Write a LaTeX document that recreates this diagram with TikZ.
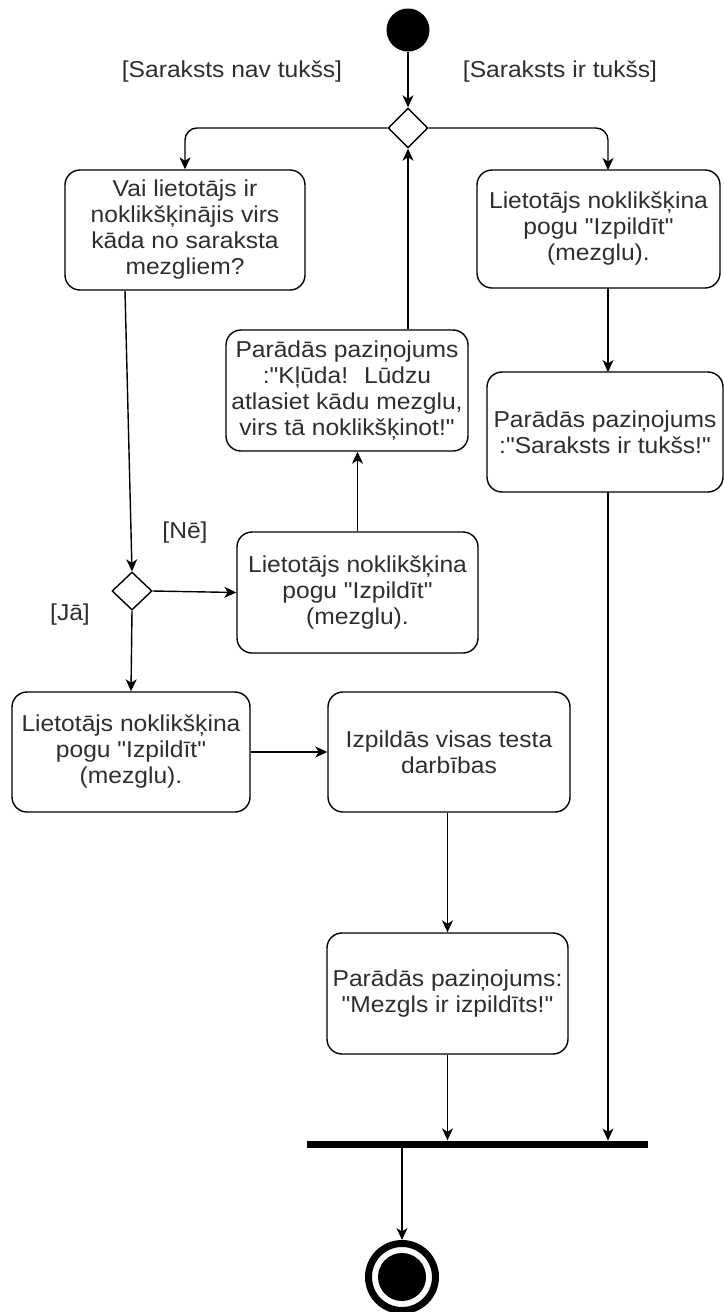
\documentclass[tikz,border=0pt]{standalone}
\usepackage{fontspec}
\setmainfont{Liberation Sans}[FakeStretch=1.07, Ligatures=TeXOff]
\usetikzlibrary{shapes.geometric,arrows.meta}
\begin{document}
\begin{tikzpicture}[x=1pt,y=-1pt,
  every node/.style={font=\fontsize{23}{26}\selectfont, text=black!82},
  act/.style={draw=black, line width=1.4pt, rounded corners=15pt, align=center, inner sep=2pt},
  dec/.style={draw=black, line width=1.4pt, diamond, minimum width=40pt, minimum height=40pt, inner sep=0pt, fill=white},
  flow/.style={line width=1.4pt, -{Stealth[length=12pt,width=11pt,inset=3.5pt]}},
  guard/.style={inner sep=0pt}
]
\useasboundingbox (0,0) rectangle (723,1312);

% start
\node[circle, fill=black, minimum size=43pt, inner sep=0pt] (start) at (408,30) {};
\node[dec] (d1) at (408,128) {};

% guards
\node[guard] (g1) at (232,72) {[Saraksts nav tukšs]};
\node[guard] (g2) at (560,72) {[Saraksts ir tukšs]};

% boxes
\node[act, minimum width=240pt, minimum height=120pt] (q) at (185,230)
  {Vai lietotājs ir\\noklikšķinājis virs\\kāda no saraksta\\mezgliem?};
\node[act, minimum width=243pt, minimum height=118pt] (r1) at (598.5,229)
  {Lietotājs noklikšķina\\pogu "Izpildīt"\\(mezglu).};
\node[act, minimum width=236pt, minimum height=120pt] (r2) at (605,432)
  {Parādās paziņojums\\:"Saraksts ir tukšs!"};
\node[act, minimum width=242pt, minimum height=121pt] (err) at (347,390.5)
  {Parādās paziņojums\\:"Kļūda!~ Lūdzu\\atlasiet kādu mezglu,\\virs tā noklikšķinot!"};
\node[dec, minimum height=38pt] (d2) at (132,591) {};
\node[act, minimum width=241pt, minimum height=121pt] (ne) at (357.5,592.5)
  {Lietotājs noklikšķina\\pogu "Izpildīt"\\(mezglu).};
\node[act, minimum width=238pt, minimum height=120pt] (ja) at (131,752)
  {Lietotājs noklikšķina\\pogu "Izpildīt"\\(mezglu).};
\node[act, minimum width=242pt, minimum height=120pt] (run) at (449,752)
  {Izpildās visas testa\\darbības};
\node[act, minimum width=241pt, minimum height=121pt] (done) at (447.5,993.5)
  {Parādās paziņojums:\\"Mezgls ir izpildīts!"};

\node[guard] (gn) at (185,533) {[Nē]};
\node[guard] (gj) at (70,615) {[Jā]};

% join bar
\node[fill=black, minimum width=341pt, minimum height=7pt, inner sep=0pt] (bar) at (477.5,1144) {};

% end
\coordinate (endc) at (402,1277);
\draw[line width=7pt] (endc) circle (33.5pt);
\fill[black] (endc) circle (24pt);
\coordinate (endtop) at (402,1240);

% connectors
\draw[flow] (start) -- (d1.north);
\draw[flow, rounded corners=12pt] (d1.west) -| (q.north);
\draw[flow, rounded corners=12pt] (d1.east) -| (608,170);
\draw[flow] ([xshift=-60pt]q.south) -- (d2.north);
\draw[flow] (d2.east) -- (ne.west);
\draw[flow] (d2.south) -- (ja.north);
\draw[flow] (ne.north) -- (ne.north |- err.south);
\draw[flow] (d1.south |- err.north) -- (d1.south);
\draw[flow] (608,288) -- (608,372);
\draw[flow] (608,492) -- (608,1140.5);
\draw[flow] (ja.east) -- (run.west);
\draw[flow] (run.south -| done.north) -- (done.north);
\draw[flow] (done.south) -- (done.south |- bar.north);
\draw[flow] (bar.south -| endtop) -- (endtop);
\end{tikzpicture}
\end{document}
